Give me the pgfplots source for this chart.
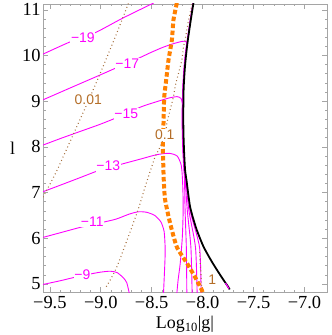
\documentclass[border=0pt]{standalone}
\usepackage{fontspec}
\setmainfont{Liberation Serif}
\newfontfamily\lsans{Liberation Sans}
\usepackage{pgfplots}
\pgfplotsset{compat=1.18}
\definecolor{mag}{RGB}{255,0,255}
\definecolor{org}{RGB}{255,128,0}
\definecolor{brn}{RGB}{165,110,60}
\definecolor{brnlab}{RGB}{180,110,40}
\definecolor{frm}{RGB}{165,165,165}
\begin{document}
\begin{tikzpicture}
\path[use as bounding box] (-43bp,-43bp) rectangle (289bp,292bp);
\begin{axis}[at={(0,0)}, anchor=south west,
  width=284bp, height=288bp, scale only axis,
  xmin=-9.567, xmax=-6.779, ymin=4.825, ymax=11.127,
  xtick={-9.5,-9,-8.5,-8,-7.5,-7}, xticklabels={−9.5,−9.0,−8.5,−8.0,−7.5,−7.0},
  ytick={5,6,7,8,9,10,11}, yticklabels={5,6,7,8,9,10,11},
  minor x tick num=4, minor y tick num=4,
  tick align=inside, major tick length=5bp, minor tick length=2.5bp,
  every tick/.style={frm, line width=0.6pt},
  axis line style={frm, line width=0.8pt},
  ticklabel style={font=\fontsize{18.5}{18.5}\selectfont},
  xticklabel style={yshift=-0.5bp},
  yticklabel style={xshift=1bp},
  xlabel={Log\textsubscript{10}|g|},
  xlabel style={font=\fontsize{18}{18}\selectfont, yshift=-1bp},
  ylabel={l},
  ylabel style={rotate=-90, font=\fontsize{18}{18}\selectfont},
  clip=true]
% magenta contours
\addplot[mag, line width=0.9pt, smooth, tension=0.4] coordinates {(-9.567,4.99) (-9.40,5.07) (-9.25,5.15) (-9.10,5.22) (-9.00,5.26) (-8.907,5.28) (-8.84,5.25) (-8.78,5.14) (-8.745,5.03) (-8.72,4.80)};
\addplot[mag, line width=0.9pt, smooth, tension=0.4] coordinates {(-9.567,6.02) (-9.40,6.12) (-9.20,6.24) (-9.00,6.34) (-8.85,6.42) (-8.72,6.53) (-8.632,6.58) (-8.55,6.57) (-8.47,6.50) (-8.41,6.36) (-8.378,6.15) (-8.368,5.80) (-8.370,5.50) (-8.384,4.80)};
\addplot[mag, line width=0.9pt, smooth, tension=0.4] coordinates {(-9.567,7.02) (-9.40,7.16) (-9.20,7.33) (-9.00,7.50) (-8.80,7.62) (-8.60,7.74) (-8.45,7.83) (-8.33,7.86) (-8.25,7.80) (-8.21,7.60) (-8.198,7.30) (-8.192,6.90) (-8.192,6.50) (-8.20,6.00) (-8.22,5.45) (-8.24,5.10) (-8.253,4.80)};
\addplot[mag, line width=0.9pt, smooth, tension=0.4] coordinates {(-9.567,8.04) (-9.40,8.18) (-9.20,8.34) (-9.00,8.50) (-8.80,8.68) (-8.60,8.88) (-8.45,8.99) (-8.33,9.07) (-8.25,9.10) (-8.212,9.06) (-8.200,8.95) (-8.202,8.70) (-8.200,8.30) (-8.194,7.90) (-8.184,7.49) (-8.178,7.30) (-8.172,6.60) (-8.160,5.80) (-8.155,4.80)};
\addplot[mag, line width=0.9pt, smooth, tension=0.4] coordinates {(-9.567,9.03) (-9.30,9.29) (-9.00,9.58) (-8.858,9.72) (-8.629,9.94) (-8.514,10.06) (-8.40,10.17) (-8.30,10.25) (-8.20,10.31) (-8.160,10.30) (-8.160,10.20) (-8.172,10.00) (-8.185,9.68) (-8.195,9.30) (-8.197,9.03) (-8.199,8.70) (-8.197,8.30) (-8.191,7.90) (-8.181,7.49) (-8.172,7.30) (-8.150,6.60) (-8.115,5.80) (-8.103,4.80)};
\addplot[mag, line width=0.9pt, smooth, tension=0.4] coordinates {(-9.567,10.03) (-9.299,10.30) (-9.054,10.50) (-8.80,10.80) (-8.60,11.02) (-8.48,11.15)};
\addplot[mag, line width=0.9pt, smooth, tension=0.4] coordinates {(-8.096,11.15) (-8.124,10.75) (-8.151,10.34) (-8.169,10.00) (-8.182,9.68) (-8.192,9.30) (-8.194,9.03) (-8.196,8.70) (-8.194,8.30) (-8.188,7.90) (-8.178,7.49) (-8.166,7.30) (-8.134,6.60) (-8.070,5.80) (-8.054,4.80)};
\addplot[mag, line width=0.9pt, smooth, tension=0.4] coordinates {(-8.093,11.15) (-8.121,10.75) (-8.148,10.34) (-8.166,10.00) (-8.179,9.68) (-8.189,9.30) (-8.191,9.03) (-8.193,8.70) (-8.191,8.30) (-8.185,7.90) (-8.175,7.49) (-8.161,7.30) (-8.122,6.60) (-8.030,5.80) (-8.015,4.80)};
% brown dotted contours
\addplot[brn, line width=1.1pt, dash pattern=on 0.9bp off 2.8bp, smooth, tension=0.4] coordinates {(-9.567,6.90) (-9.512,7.13) (-9.429,7.49) (-9.25,8.37) (-9.123,9.00) (-9.005,9.61) (-8.85,10.45) (-8.727,11.15)};
\addplot[brn, line width=1.1pt, dash pattern=on 0.9bp off 2.8bp, smooth, tension=0.4] coordinates {(-8.946,4.94) (-8.841,5.38) (-8.645,6.55) (-8.564,7.13) (-8.466,7.79) (-8.433,7.93) (-8.368,8.26) (-8.351,8.52) (-8.319,8.81) (-8.286,9.10) (-8.270,9.32) (-8.237,9.61) (-8.204,9.90) (-8.188,10.19) (-8.172,10.34) (-8.14,10.75) (-8.10,11.15)};
\addplot[brn, line width=1.1pt, dash pattern=on 0.9bp off 2.8bp] coordinates {(-8.03,5.70) (-8.005,4.80)};
% orange thick dashed
\addplot[org, line width=4bp, dash pattern=on 4.5bp off 2.5bp, smooth, tension=0.4] coordinates {(-8.253,11.15) (-8.286,10.78) (-8.302,10.34) (-8.335,9.90) (-8.358,9.46) (-8.377,9.09) (-8.384,8.52) (-8.390,8.00) (-8.384,7.43) (-8.380,7.20) (-8.368,6.84) (-8.319,6.33) (-8.253,5.81) (-8.155,5.46) (-8.074,5.15) (-8.008,4.87) (-8.0,4.80)};
% black boundary
\addplot[black, line width=1.8pt, smooth, tension=0.4] coordinates {(-8.090,11.15) (-8.118,10.75) (-8.145,10.34) (-8.163,10.00) (-8.176,9.68) (-8.186,9.30) (-8.188,9.03) (-8.190,8.70) (-8.188,8.30) (-8.182,7.90) (-8.172,7.49) (-8.157,7.25) (-8.140,6.95) (-8.123,6.69) (-8.095,6.45) (-8.057,6.18) (-7.992,5.82) (-7.910,5.49) (-7.828,5.20) (-7.747,4.93) (-7.735,4.88)};
\addplot[mag, line width=1.2pt] coordinates {(-7.775,5.02) (-7.742,4.90)};
% labels
\begin{scope}[every node/.style={fill=white, inner sep=0.8bp, font=\lsans\fontsize{14}{14}\selectfont}]
\node[text=mag] at (axis cs:-9.176,10.38) {−19};
\node[text=mag] at (axis cs:-8.740,9.82) {−17};
\node[text=mag] at (axis cs:-8.750,8.72) {−15};
\node[text=mag] at (axis cs:-8.926,7.58) {−13};
\node[text=mag] at (axis cs:-9.083,6.36) {−11};
\node[text=mag] at (axis cs:-9.181,5.20) {−9};
\node[text=brnlab] at (axis cs:-9.123,9.03) {0.01};
\node[text=brnlab] at (axis cs:-8.372,8.27) {0.1};
\node[text=brnlab] at (axis cs:-7.905,5.09) {1};
\end{scope}
\end{axis}
\end{tikzpicture}
\end{document}
